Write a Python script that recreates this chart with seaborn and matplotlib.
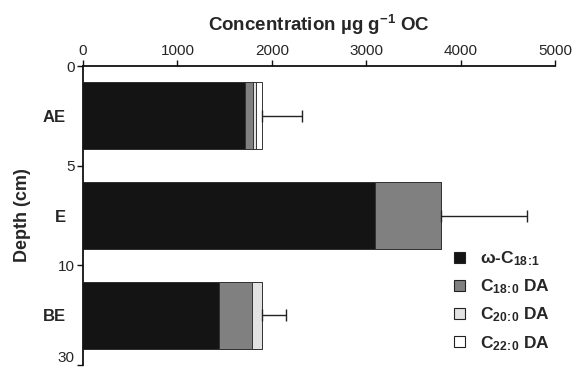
import pandas as pd
import numpy as np
import matplotlib.pyplot as plt
import seaborn as sns
from matplotlib.patches import Patch

# Values
horizons = ["AE", "E", "BE"]
depth_mid = [2.5, 7.5, 12.5]
depth_ticks = [0, 5, 10, 15]
depth_labels = ["0", "5", "10", "30"]
omega_c18_1 = [1720, 3090, 1445]
c18_0_da = [80, 700, 345]
c20_0_da = [35, 0, 105]
c22_0_da = [60, 0, 0]
error_pos = [422, 915, 258]

series_names = [r"ω-C$_{18\!:\!1}$", r"C$_{18\!:\!0}$ DA", r"C$_{20\!:\!0}$ DA", r"C$_{22\!:\!0}$ DA"]
series_colors = ["#141414", "#808080", "#e2e2e2", "#ffffff"]

df = pd.DataFrame({"depth": depth_mid, "w18": omega_c18_1, "c18": c18_0_da,
                   "c20": c20_0_da, "c22": c22_0_da})
layers = ["w18", "c18", "c20", "c22"]
cum = df[layers].cumsum(axis=1)

sns.set_theme(style="ticks")
plt.rcParams['font.family'] = ['Liberation Sans', 'DejaVu Sans']
plt.rcParams['mathtext.fontset'] = 'custom'
plt.rcParams['mathtext.rm'] = 'Liberation Sans:bold'
plt.rcParams['mathtext.it'] = 'Liberation Sans:bold'
plt.rcParams['mathtext.bf'] = 'Liberation Sans:bold'
plt.rcParams['mathtext.default'] = 'rm'

fig = plt.figure(figsize=(5.76, 3.67), dpi=100)
ax = fig.add_axes([83 / 576, 1 - 365 / 367, (555 - 83) / 576, 299 / 367])

# Stacked bars: draw cumulative totals from largest to smallest
for i in range(len(layers) - 1, -1, -1):
    tmp = pd.DataFrame({"depth": df["depth"], "val": cum[layers[i]]})
    sns.barplot(data=tmp, x="val", y="depth", orient="h", native_scale=True,
                width=0.67, color=series_colors[i], saturation=1,
                edgecolor="#333333", linewidth=0.7, ax=ax)

totals = cum["c22"].values
ax.errorbar(totals, depth_mid, xerr=[np.zeros(3), error_pos], fmt="none",
            ecolor="#222222", elinewidth=1, capsize=4, capthick=1)

ax.set_xlim(0, 5000)
ax.set_ylim(15, 0)
ax.xaxis.tick_top()
ax.xaxis.set_label_position("top")
ax.set_xticks([0, 1000, 2000, 3000, 4000, 5000])
ax.set_yticks(depth_ticks)
ax.set_yticklabels(depth_labels)
ax.get_yticklabels()[-1].set_verticalalignment("bottom")
ax.set_yticks(depth_mid, minor=True)
ax.set_yticklabels(horizons, minor=True, fontweight="bold")
ax.tick_params(axis="y", which="minor", length=0, pad=12.5, labelsize=12)
ax.tick_params(axis="both", which="major", length=4, width=1, labelsize=11,
               color="#111111", pad=2)
for s in ["right", "bottom"]:
    ax.spines[s].set_visible(False)
for s in ["top", "left"]:
    ax.spines[s].set_linewidth(1.3)
    ax.spines[s].set_color("#111111")

ax.set_xlabel(r"Concentration µg g$^{-1}$ OC", fontsize=13.5, fontweight="bold", labelpad=9)
ax.set_ylabel("Depth (cm)", fontsize=13, fontweight="bold")
ax.yaxis.set_label_coords(-(83 - 31) / 472, 0.5)

handles = [Patch(facecolor=c, edgecolor="#222222", linewidth=0.8) for c in series_colors]
fig.legend(handles, series_names, loc="upper left", bbox_to_anchor=(449 / 576, 1 - 244 / 367),
           frameon=False, handlelength=0.6, handleheight=0.6, handletextpad=0.9,
           labelspacing=0.55, borderaxespad=0, borderpad=0.3,
           prop={"weight": "bold", "size": 12.5})

fig.savefig("out.png", dpi=100)
